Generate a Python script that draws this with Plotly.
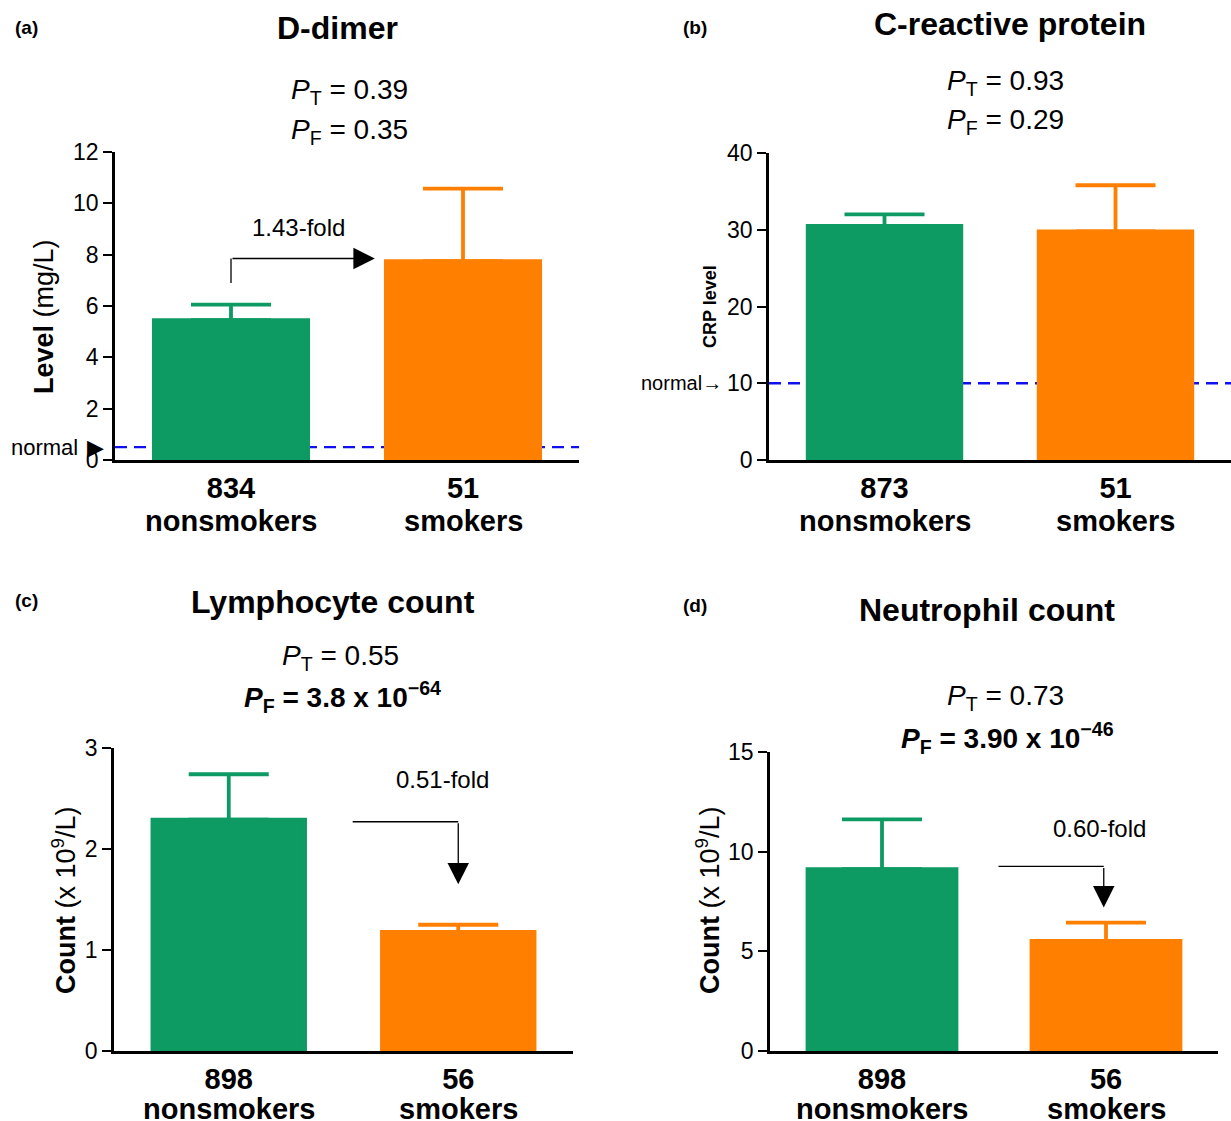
import plotly.graph_objects as go

W, H = 1231, 1121

categories = ["nonsmokers", "smokers"]

# Panel (a) D-dimer
ddimer_n = [834, 51]
ddimer_mean = [5.45, 7.75]
ddimer_err = [0.60, 2.82]
ddimer_normal = 0.5

# Panel (b) CRP
crp_n = [873, 51]
crp_mean = [30.5, 29.8]
crp_err = [1.5, 6.0]
crp_normal = 10

# Panel (c) Lymphocytes
lymph_n = [898, 56]
lymph_mean = [2.29, 1.18]
lymph_err = [0.45, 0.07]

# Panel (d) Neutrophils
neut_n = [898, 56]
neut_mean = [9.12, 5.52]
neut_err = [2.50, 0.92]

colors = ["#0e9a63", "#ff8000"]
FONT = "Liberation Sans, Arial, sans-serif"

# pixel boxes: (x0, x1, ytop, ybottom)
boxes = {
    1: (115, 579, 152, 460),
    2: (769, 1231, 153, 460),
    3: (114, 573, 748, 1051),
    4: (770, 1218, 752, 1051),
}
# pixel row of the group-name line under each panel
group_label_row = {1: 521, 2: 521, 3: 1109, 4: 1109}
ranges = {1: [0, 12], 2: [0, 40], 3: [0, 3], 4: [0, 15]}
dticks = {1: 2, 2: 10, 3: 1, 4: 5}
panels = {
    1: (ddimer_n, ddimer_mean, ddimer_err),
    2: (crp_n, crp_mean, crp_err),
    3: (lymph_n, lymph_mean, lymph_err),
    4: (neut_n, neut_mean, neut_err),
}

fig = go.Figure()

def px(x):
    return x / W

def py(y):
    return 1 - y / H

annotations = []
shapes = []

def txt(x, y, text, size, bold=False, xanchor="center", yanchor="middle", angle=0,
        xref="paper", yref="paper"):
    annotations.append(dict(
        x=x, y=y, xref=xref, yref=yref, text=(f"<b>{text}</b>" if bold else text),
        showarrow=False, xanchor=xanchor, yanchor=yanchor, textangle=angle,
        font=dict(family=FONT, size=size, color="black"),
    ))

BAR_W = 0.665
for i in range(1, 5):
    n, mean, err = panels[i]
    xa = "x" if i == 1 else f"x{i}"
    ya = "y" if i == 1 else f"y{i}"
    for j in range(2):
        # bar carrying the upper error bar
        fig.add_trace(go.Bar(
            x=[j], y=[mean[j]], xaxis=xa, yaxis=ya,
            width=BAR_W, marker=dict(color=colors[j], line=dict(width=0)),
            error_y=dict(type="data", symmetric=False, array=[err[j]], arrayminus=[0],
                         color=colors[j], thickness=3.8, width=40),
            showlegend=False, hoverinfo="skip",
        ))
        # overlay bar hiding the lower cap
        fig.add_trace(go.Bar(
            x=[j], y=[mean[j]], xaxis=xa, yaxis=ya,
            width=BAR_W, marker=dict(color=colors[j], line=dict(width=3.8, color=colors[j])),
            showlegend=False, hoverinfo="skip",
        ))
        # group name under the count
        txt(j, py(group_label_row[i]), categories[j], 29, True, xref=xa)
    x0, x1, yt, yb = boxes[i]
    axsuffix = "" if i == 1 else str(i)
    ticktext = [f"<b>{n[k]}</b>" for k in range(2)]
    fig.update_layout(**{
        f"xaxis{axsuffix}": dict(
            domain=[px(x0), px(x1)], range=[-0.5, 1.5], anchor=ya,
            tickmode="array", tickvals=[0, 1], ticktext=ticktext,
            showline=True, linecolor="black", linewidth=2.5, ticks="",
            showgrid=False, zeroline=False,
            tickfont=dict(family=FONT, size=29, color="black"),
        ),
        f"yaxis{axsuffix}": dict(
            domain=[py(yb), py(yt)], range=ranges[i], anchor=xa,
            dtick=dticks[i], tick0=0,
            showline=True, linecolor="black", linewidth=2.5,
            ticks="outside", ticklen=9, tickwidth=2, tickcolor="black",
            showgrid=False, zeroline=False,
            tickfont=dict(family=FONT, size=23, color="black"),
        ),
    })

# Normal reference lines (behind bars)
for i, val in ((1, ddimer_normal), (2, crp_normal)):
    xa = "x" if i == 1 else f"x{i}"
    ya = "y" if i == 1 else f"y{i}"
    shapes.append(dict(type="line", xref=xa, yref=ya, x0=-0.5, x1=1.5, y0=val, y1=val,
                       line=dict(color="#1010ee", width=2.4, dash="12px,7px"), layer="below"))

# Panel labels
txt(px(13), py(27), "(a)", 19, True, xanchor="left")
txt(px(681), py(27), "(b)", 19, True, xanchor="left")
txt(px(13), py(600), "(c)", 19, True, xanchor="left")
txt(px(681), py(605), "(d)", 19, True, xanchor="left")

# Titles
txt(px(337), py(28), "D-dimer", 32, True)
txt(px(1010), py(24), "C-reactive protein", 32, True)
txt(px(333), py(602), "Lymphocyte count", 32, True)
txt(px(987), py(610), "Neutrophil count", 32, True)

# P values
txt(px(349), py(92), "<i>P</i><sub>T</sub> = 0.39", 28)
txt(px(349), py(131), "<i>P</i><sub>F</sub> = 0.35", 28)
txt(px(1005), py(83), "<i>P</i><sub>T</sub> = 0.93", 28)
txt(px(1005), py(121), "<i>P</i><sub>F</sub> = 0.29", 28)
txt(px(340), py(657), "<i>P</i><sub>T</sub> = 0.55", 28)
txt(px(342), py(697), "<i>P</i><sub>F</sub> = 3.8 x 10<sup>\u221264</sup>", 28, True)
txt(px(1005), py(697), "<i>P</i><sub>T</sub> = 0.73", 28)
txt(px(1007), py(738), "<i>P</i><sub>F</sub> = 3.90 x 10<sup>\u221246</sup>", 28, True)

# Y axis titles
txt(px(44), py(317), "<b>Level</b> (mg/L)", 27, angle=-90)
txt(px(710), py(307), "CRP level", 18, True, angle=-90)
txt(px(64), py(900), "<b>Count</b> (x 10<sup>9</sup>/L)", 27, angle=-90)
txt(px(708), py(900), "<b>Count</b> (x 10<sup>9</sup>/L)", 27, angle=-90)

# normal labels
txt(px(80), ddimer_normal, "normal", 22, xanchor="right", yref="y")
txt(px(106), ddimer_normal, "\u25B6", 22, xanchor="right", yref="y")
txt(px(724), crp_normal, "normal\u2192", 20, xanchor="right", yref="y2")

# Fold change annotations
txt(0.29, 9.05, "1.43-fold", 24, xref="x", yref="y")
txt(0.93, 2.69, "0.51-fold", 24, xref="x3", yref="y3")
txt(0.97, 11.15, "0.60-fold", 24, xref="x4", yref="y4")

# Elbow connector lines
fig.add_trace(go.Scatter(x=[0, 0], y=[6.9, 7.85], xaxis="x", yaxis="y", mode="lines",
                         line=dict(color="black", width=1.3), showlegend=False, hoverinfo="skip"))
fig.add_trace(go.Scatter(x=[0.54, 1.0], y=[2.27, 2.27], xaxis="x3", yaxis="y3", mode="lines",
                         line=dict(color="black", width=1.3), showlegend=False, hoverinfo="skip"))
fig.add_trace(go.Scatter(x=[0.52, 0.99], y=[9.26, 9.26], xaxis="x4", yaxis="y4", mode="lines",
                         line=dict(color="black", width=1.3), showlegend=False, hoverinfo="skip"))

def arrow(xref, yref, x_from, y_from, x_to, y_to):
    annotations.append(dict(
        x=x_to, y=y_to, ax=x_from, ay=y_from, xref=xref, yref=yref, axref=xref, ayref=yref,
        showarrow=True, arrowhead=2, arrowsize=3.3, arrowwidth=1.3, arrowcolor="black", text="",
    ))

arrow("x", "y", 0, 7.85, 0.62, 7.85)
arrow("x3", "y3", 1.0, 2.27, 1.0, 1.65)
arrow("x4", "y4", 0.99, 9.26, 0.99, 7.2)

fig.update_layout(
    width=W, height=H, margin=dict(l=0, r=0, t=0, b=0, autoexpand=False),
    paper_bgcolor="white", plot_bgcolor="rgba(0,0,0,0)",
    barmode="overlay", annotations=annotations, shapes=shapes,
    font=dict(family=FONT, color="black"),
)

fig.write_html("out.html", config={"displayModeBar": False},
               post_script="document.body.style.margin='0px';")
